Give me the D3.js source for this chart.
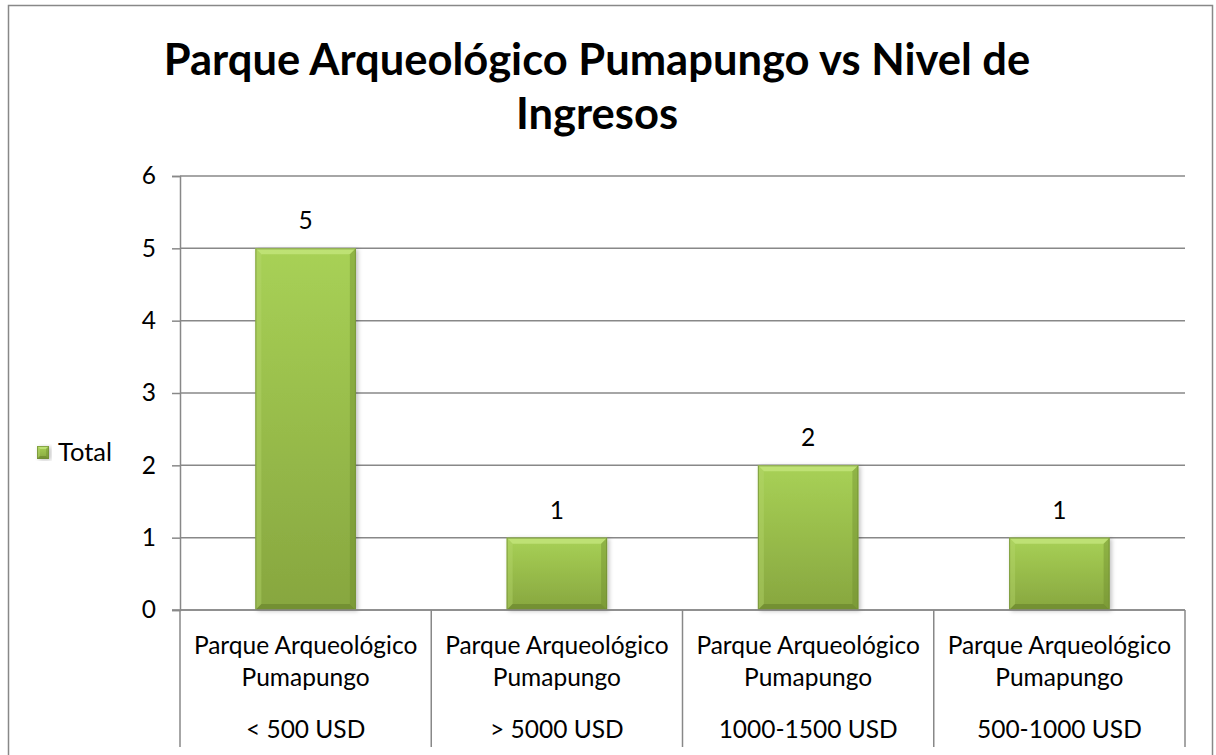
<!DOCTYPE html>
<html>
<head>
<meta charset="utf-8">
<script src="https://cdn.jsdelivr.net/npm/d3@7"></script>
<style>
  html, body { margin: 0; padding: 0; background: #fff; }
  svg { display: block; }
  text { font-family: Lato, "Open Sans", "Liberation Sans", sans-serif; fill: #000; }
</style>
</head>
<body>
<svg id="chart" width="1216" height="755"></svg>
<script>
// Chart data
const titleLines = ["Parque Arqueológico Pumapungo vs Nivel de", "Ingresos"];
const parkLines = ["Parque Arqueológico", "Pumapungo"];
const categories = ["< 500 USD", "> 5000 USD", "1000-1500 USD", "500-1000 USD"];
const values = [5, 1, 2, 1];
const yTicks = [0, 1, 2, 3, 4, 5, 6];
const seriesName = "Total";

const svg = d3.select("#chart");
const plot = { left: 180, right: 1185, top: 176, bottom: 610 };
const gridColor = "#888888";
const labelSize = "24.5px";

// Outer chart frame
svg.append("rect")
  .attr("x", 8.5).attr("y", 5.5)
  .attr("width", 1204).attr("height", 800)
  .attr("fill", "#fff").attr("stroke", gridColor).attr("stroke-width", 1.5);

// Title
svg.append("g").selectAll("text")
  .data(titleLines).join("text")
  .attr("x", 597).attr("y", (d, i) => 75 + i * 54)
  .attr("text-anchor", "middle")
  .style("font-size", "43.5px").style("font-weight", "bold")
  .text(d => d);

// Scales
const y = d3.scaleLinear().domain([0, 6]).range([plot.bottom, plot.top]);
const xGroup = d3.scaleBand().domain(categories).range([plot.left, plot.right]);
const xBar = d3.scaleBand().domain(categories).range([plot.left, plot.right])
  .paddingInner(0.6).paddingOuter(0.3);

// Horizontal gridlines
svg.append("g").selectAll("line")
  .data(yTicks).join("line")
  .attr("x1", plot.left).attr("x2", plot.right)
  .attr("y1", d => y(d)).attr("y2", d => y(d))
  .attr("stroke", gridColor).attr("stroke-width", 1.5);

// Y axis
const yAxis = svg.append("g")
  .attr("transform", `translate(${plot.left},0)`)
  .call(d3.axisLeft(y).tickValues(yTicks).tickSize(8).tickPadding(16).tickFormat(d3.format("d")));
yAxis.select(".domain").attr("stroke", gridColor).attr("stroke-width", 1.5);
yAxis.selectAll(".tick line").attr("stroke", gridColor).attr("stroke-width", 1.5);
yAxis.selectAll(".tick text")
  .style("font-family", "Lato, 'Open Sans', sans-serif")
  .style("font-size", labelSize).attr("fill", "#000");

// Category divider lines in the multi-level axis
const dividerX = categories.map(c => xGroup(c)).concat([plot.right]);
svg.append("g").selectAll("line")
  .data(dividerX).join("line")
  .attr("x1", d => d).attr("x2", d => d)
  .attr("y1", plot.bottom).attr("y2", 747)
  .attr("stroke", gridColor).attr("stroke-width", 1.5);

// Category labels
const labelG = svg.append("g").selectAll("g")
  .data(categories).join("g")
  .attr("transform", d => `translate(${xGroup(d) + xGroup.bandwidth() / 2},0)`);
labelG.selectAll("text.park")
  .data(parkLines).join("text").attr("class", "park")
  .attr("y", (d, i) => 654 + i * 32)
  .attr("text-anchor", "middle").style("font-size", labelSize)
  .text(d => d);
labelG.append("text")
  .attr("y", 738).attr("text-anchor", "middle").style("font-size", labelSize)
  .text(d => d);

// Bar fill gradient
const defs = svg.append("defs");
const grad = defs.append("linearGradient").attr("id", "barGrad")
  .attr("x1", 0).attr("y1", 0).attr("x2", 0).attr("y2", 1);
grad.append("stop").attr("offset", "0%").attr("stop-color", "#a8d156");
grad.append("stop").attr("offset", "100%").attr("stop-color", "#87a63f");

const shadow = defs.append("filter").attr("id", "barShadow")
  .attr("x", "-10%").attr("y", "-10%").attr("width", "130%").attr("height", "120%");
shadow.append("feDropShadow").attr("dx", 2).attr("dy", 1).attr("stdDeviation", 2)
  .attr("flood-color", "#000").attr("flood-opacity", 0.25);

// Bevelled bar drawing
function bevelBar(g, x0, y0, w, h, b) {
  g.append("rect").attr("x", x0).attr("y", y0).attr("width", w).attr("height", h)
    .attr("fill", "url(#barGrad)").attr("filter", "url(#barShadow)");
  const x1 = x0 + w, y1 = y0 + h;
  const faces = [
    { pts: [[x0, y0], [x1, y0], [x1 - b, y0 + b], [x0 + b, y0 + b]], fill: "#c6e77f", op: 0.75 },
    { pts: [[x0, y0], [x0 + b, y0 + b], [x0 + b, y1 - b], [x0, y1]], fill: "#b6d86d", op: 0.4 },
    { pts: [[x1, y0], [x1, y1], [x1 - b, y1 - b], [x1 - b, y0 + b]], fill: "#6c8a2c", op: 0.4 },
    { pts: [[x0, y1], [x0 + b, y1 - b], [x1 - b, y1 - b], [x1, y1]], fill: "#5f7a25", op: 0.5 }
  ];
  g.selectAll("polygon").data(faces).join("polygon")
    .attr("points", d => d.pts.map(p => p.join(",")).join(" "))
    .attr("fill", d => d.fill).attr("opacity", d => d.op);
  g.append("rect").attr("x", x0 + 0.5).attr("y", y0 + 0.5).attr("width", w - 1).attr("height", h - 1)
    .attr("fill", "none").attr("stroke", "#6f8b33").attr("stroke-width", 1).attr("opacity", 0.7);
}

const data = categories.map((c, i) => ({ cat: c, value: values[i] }));
svg.append("g").selectAll("g")
  .data(data).join("g")
  .each(function (d) {
    bevelBar(d3.select(this), xBar(d.cat), y(d.value), xBar.bandwidth(), y(0) - y(d.value), 6);
  });

// Redraw the baseline over the bars
svg.append("line")
  .attr("x1", plot.left - 8).attr("x2", plot.right)
  .attr("y1", y(0)).attr("y2", y(0))
  .attr("stroke", gridColor).attr("stroke-width", 1.5);

// Data labels
svg.append("g").selectAll("text")
  .data(data).join("text")
  .attr("x", d => xBar(d.cat) + xBar.bandwidth() / 2)
  .attr("y", d => y(d.value) - 19)
  .attr("text-anchor", "middle").style("font-size", labelSize)
  .text(d => d.value);

// Legend
const legend = svg.append("g").attr("transform", "translate(37,446)");
bevelBar(legend.append("g"), 0, 0, 12, 13, 3);
legend.append("text").attr("x", 21).attr("y", 14.5).style("font-size", "25.5px").text(seriesName);
</script>
</body>
</html>
